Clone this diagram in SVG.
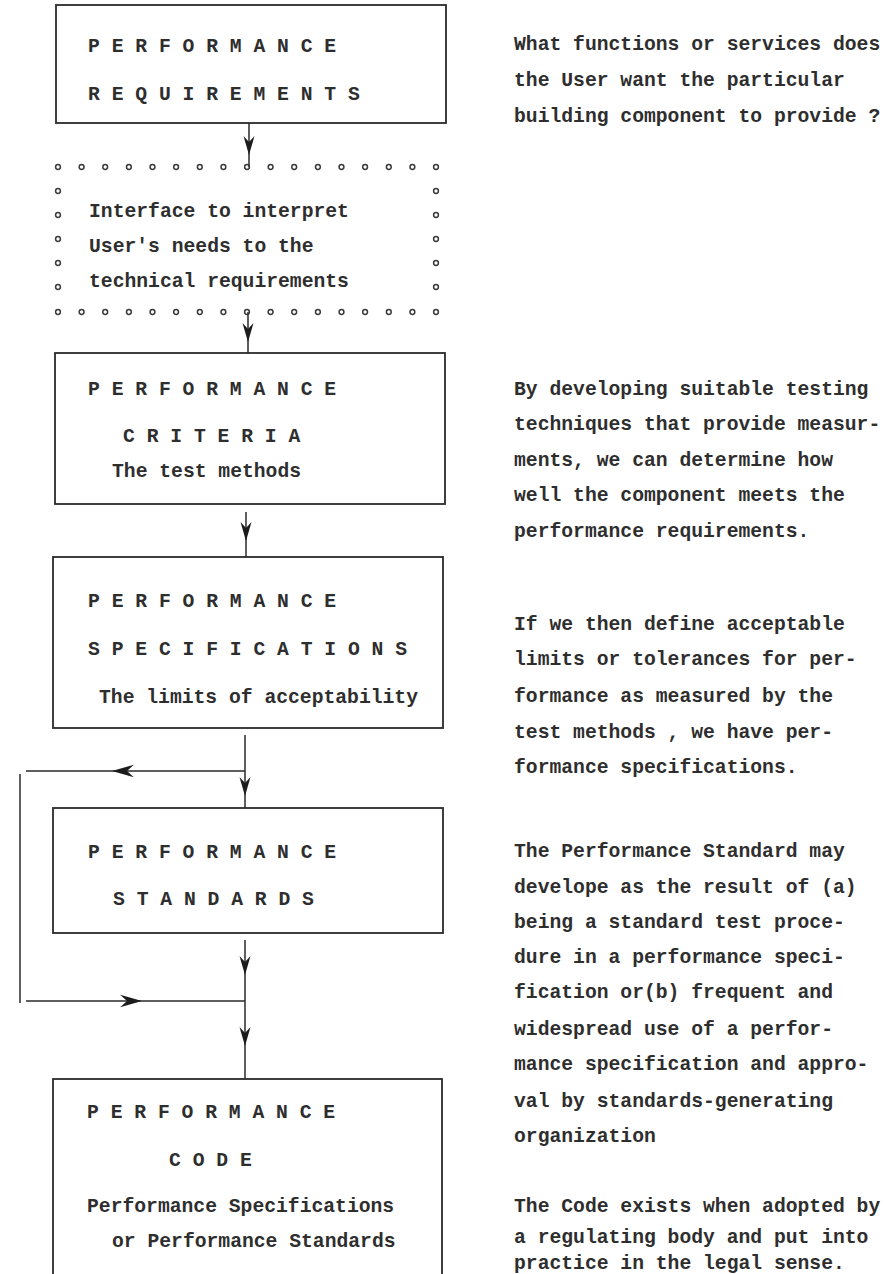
<svg xmlns="http://www.w3.org/2000/svg" width="894" height="1274" viewBox="0 0 894 1274">
  <style>
    .t { font-family: "Liberation Mono", "DejaVu Sans Mono", monospace; font-size: 19.7px; font-weight: bold; fill: #2e2e2e; }
    .box { fill: none; stroke: #2a2a2a; stroke-width: 1.8; }
    .ln { fill: none; stroke: #2a2a2a; stroke-width: 1.5; }
    .dot { fill: none; stroke: #3a3a3a; stroke-width: 1.5; }
    .ah { fill: #1c1c1c; }
  </style>
  <defs>
    <!-- notched arrowhead pointing down, tip at origin -->
    <path id="ah" class="ah" d="M0,0 L-5.5,-19 L0,-13 L5.5,-19 Z"/>
    <circle id="d" class="dot" r="2.4"/>
  </defs>
  <rect width="894" height="1274" fill="#ffffff"/>

  <g id="connectors">
    <path class="ln" d="M249,123 V167"/>
    <path class="ln" d="M248,312 V353"/>
    <path class="ln" d="M246,512 V557"/>
    <path class="ln" d="M245,735 V808"/>
    <path class="ln" d="M245,771 H26"/>
    <path class="ln" d="M20,774 V1003"/>
    <path class="ln" d="M26,1001 H245"/>
    <path class="ln" d="M245,940 V1079"/>
    <use href="#ah" transform="translate(249,155)"/>
    <use href="#ah" transform="translate(248,342)"/>
    <use href="#ah" transform="translate(246,541)"/>
    <use href="#ah" transform="translate(245,796)"/>
    <use href="#ah" transform="translate(112,771) rotate(90) scale(1.15)"/>
    <use href="#ah" transform="translate(245,975)"/>
    <use href="#ah" transform="translate(142,1001) rotate(-90) scale(1.15)"/>
    <use href="#ah" transform="translate(245,1046)"/>
  </g>

  <g id="requirements">
    <rect class="box" x="56" y="5" width="390" height="118"/>
    <text class="t" x="88" y="52">P E R F O R M A N C E</text>
    <text class="t" x="88" y="100">R E Q U I R E M E N T S</text>
  </g>

  <g id="interface">
    <g id="dots-top">
      <use href="#d" x="58" y="167"/><use href="#d" x="81.6" y="167"/><use href="#d" x="105.2" y="167"/><use href="#d" x="128.9" y="167"/>
      <use href="#d" x="152.5" y="167"/><use href="#d" x="176.1" y="167"/><use href="#d" x="199.8" y="167"/><use href="#d" x="223.4" y="167"/>
      <use href="#d" x="247" y="167"/><use href="#d" x="270.6" y="167"/><use href="#d" x="294.2" y="167"/><use href="#d" x="317.9" y="167"/>
      <use href="#d" x="341.5" y="167"/><use href="#d" x="365.1" y="167"/><use href="#d" x="388.8" y="167"/><use href="#d" x="412.4" y="167"/>
      <use href="#d" x="436" y="167"/>
    </g>
    <g id="dots-bottom">
      <use href="#d" x="58" y="312"/><use href="#d" x="81.6" y="312"/><use href="#d" x="105.2" y="312"/><use href="#d" x="128.9" y="312"/>
      <use href="#d" x="152.5" y="312"/><use href="#d" x="176.1" y="312"/><use href="#d" x="199.8" y="312"/><use href="#d" x="223.4" y="312"/>
      <use href="#d" x="247" y="312"/><use href="#d" x="270.6" y="312"/><use href="#d" x="294.2" y="312"/><use href="#d" x="317.9" y="312"/>
      <use href="#d" x="341.5" y="312"/><use href="#d" x="365.1" y="312"/><use href="#d" x="388.8" y="312"/><use href="#d" x="412.4" y="312"/>
      <use href="#d" x="436" y="312"/>
    </g>
    <g id="dots-sides">
      <use href="#d" x="58" y="191"/><use href="#d" x="58" y="215"/><use href="#d" x="58" y="239"/><use href="#d" x="58" y="263"/><use href="#d" x="58" y="287"/>
      <use href="#d" x="436" y="191"/><use href="#d" x="436" y="215"/><use href="#d" x="436" y="239"/><use href="#d" x="436" y="263"/><use href="#d" x="436" y="287"/>
    </g>
    <text class="t" x="89" y="217">Interface to interpret</text>
    <text class="t" x="89" y="252">User's needs to the</text>
    <text class="t" x="89" y="287">technical requirements</text>
  </g>

  <g id="criteria">
    <rect class="box" x="55" y="353" width="390" height="151"/>
    <text class="t" x="88" y="395">P E R F O R M A N C E</text>
    <text class="t" x="123" y="442">C R I T E R I A</text>
    <text class="t" x="112" y="477">The test methods</text>
  </g>

  <g id="specifications">
    <rect class="box" x="53" y="557" width="390" height="171"/>
    <text class="t" x="88" y="607">P E R F O R M A N C E</text>
    <text class="t" x="88" y="655">S P E C I F I C A T I O N S</text>
    <text class="t" x="99" y="703">The limits of acceptability</text>
  </g>

  <g id="standards">
    <rect class="box" x="53" y="808" width="390" height="125"/>
    <text class="t" x="88" y="858">P E R F O R M A N C E</text>
    <text class="t" x="113" y="905">S T A N D A R D S</text>
  </g>

  <g id="code">
    <rect class="box" x="53" y="1079" width="389" height="230"/>
    <text class="t" x="87" y="1118">P E R F O R M A N C E</text>
    <text class="t" x="169" y="1166">C O D E</text>
    <text class="t" x="87" y="1212">Performance Specifications</text>
    <text class="t" x="112" y="1247">or Performance Standards</text>
  </g>

  <g id="notes">
    <text class="t" x="514" y="50">What functions or services does</text>
    <text class="t" x="514" y="86">the User want the particular</text>
    <text class="t" x="514" y="122">building component to provide ?</text>

    <text class="t" x="514" y="395">By developing suitable testing</text>
    <text class="t" x="514" y="430">techniques that provide measur-</text>
    <text class="t" x="514" y="466">ments, we can determine how</text>
    <text class="t" x="514" y="501">well the component meets the</text>
    <text class="t" x="514" y="537">performance requirements.</text>

    <text class="t" x="514" y="630">If we then define acceptable</text>
    <text class="t" x="514" y="665">limits or tolerances for per-</text>
    <text class="t" x="514" y="702">formance as measured by the</text>
    <text class="t" x="514" y="738">test methods , we have per-</text>
    <text class="t" x="514" y="773">formance specifications.</text>

    <text class="t" x="514" y="857">The Performance Standard may</text>
    <text class="t" x="514" y="893">develope as the result of (a)</text>
    <text class="t" x="514" y="928">being a standard test proce-</text>
    <text class="t" x="514" y="963">dure in a performance speci-</text>
    <text class="t" x="514" y="998">fication or(b) frequent and</text>
    <text class="t" x="514" y="1035">widespread use of a perfor-</text>
    <text class="t" x="514" y="1070">mance specification and appro-</text>
    <text class="t" x="514" y="1107">val by standards-generating</text>
    <text class="t" x="514" y="1142">organization</text>

    <text class="t" x="514" y="1212">The Code exists when adopted by</text>
    <text class="t" x="514" y="1243">a regulating body and put into</text>
    <text class="t" x="514" y="1269">practice in the legal sense.</text>
  </g>
</svg>
